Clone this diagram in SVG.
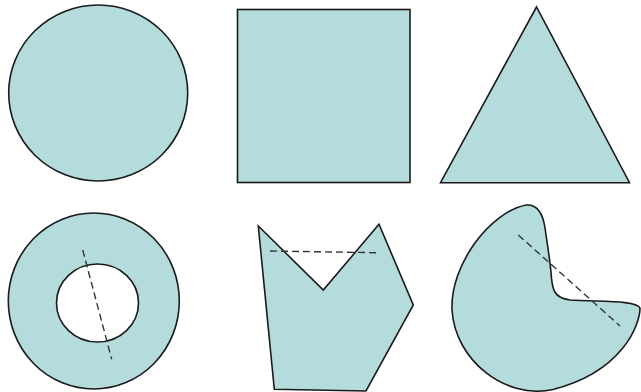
<svg xmlns="http://www.w3.org/2000/svg" width="641" height="392" viewBox="0 0 641 392">
<style>
.s{fill:#b5dcdc;stroke:#1a1a1a;stroke-width:1.6;stroke-linejoin:miter}
.d{fill:none;stroke:#333;stroke-width:1.4;stroke-dasharray:7 4}
</style>
<rect width="641" height="392" fill="#fff"/>
<g id="circle"><ellipse class="s" cx="98.2" cy="93" rx="89.5" ry="88"/></g>
<g id="square"><rect class="s" x="237.5" y="9.5" width="172.5" height="173"/></g>
<g id="triangle"><polygon class="s" points="536.5,7 440.5,182.7 629.5,182.7"/></g>
<g id="annulus">
<path class="s" fill-rule="evenodd" d="M8.3,301 A85.5,88 0 1 0 179.3,301 A85.5,88 0 1 0 8.3,301 Z M56.5,303 A41,39 0 1 0 138.5,303 A41,39 0 1 0 56.5,303 Z"/>
<line class="d" x1="82.7" y1="250" x2="111.7" y2="359.3"/>
</g>
<g id="polygon">
<polygon class="s" points="258.3,226 323.3,290 379,224.3 413.3,305 366,391 274.3,389.3"/>
<line class="d" x1="270" y1="251" x2="376" y2="252.7"/>
</g>
<g id="blob">
<path class="s" d="M526,205 C538,204 543,214 545,228 C548,248 550,262 551,272 C552,290 554,298 570,300 C600,302 636,300 640,308 C640,325 622,372 553,389.5 C505,400 455,360 452,310 C450,265 490,212 526,205 Z"/>
<line class="d" x1="518.3" y1="235" x2="620" y2="326"/>
</g>
</svg>
